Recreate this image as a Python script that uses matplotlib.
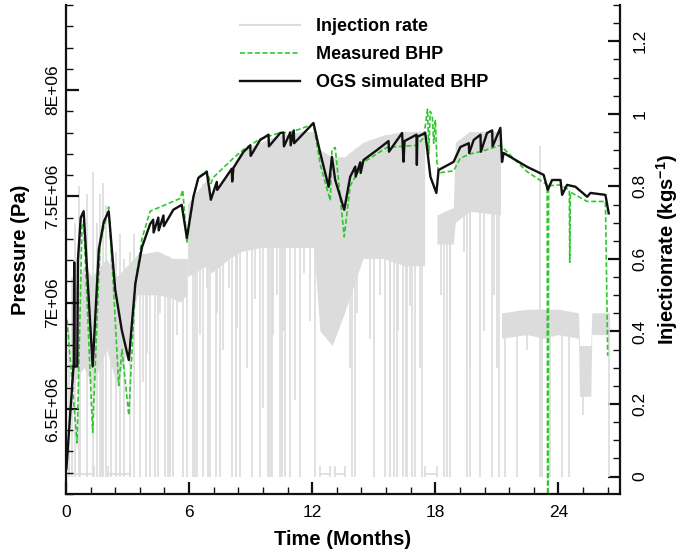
import numpy as np
import matplotlib
matplotlib.use('Agg')
import matplotlib.pyplot as plt
from matplotlib.lines import Line2D
from matplotlib.ticker import MultipleLocator, FixedLocator, FixedFormatter

plt.rcParams['font.family'] = ['Liberation Sans', 'DejaVu Sans']
plt.rcParams['mathtext.fontset'] = 'custom'
plt.rcParams['mathtext.rm'] = 'Liberation Sans'
plt.rcParams['mathtext.bf'] = 'Liberation Sans:bold'

# ---------------- data (time in months) ----------------
sim_time = [0.02, 0.38, 0.40, 0.42, 0.55, 0.58, 0.72, 0.86, 1.30, 1.60, 1.84, 2.08, 2.40, 2.72, 3.06,
            3.38, 3.70, 4.10, 4.25, 4.27, 4.50, 4.52, 4.75, 4.77, 5.23, 5.64, 5.89,
            6.21, 6.45, 6.86, 7.06, 7.35, 7.37, 8.08, 8.10, 8.16, 8.65, 8.98, 9.00,
            9.46, 9.87, 9.89, 10.44, 10.60, 10.62, 10.93, 10.95, 11.10, 11.12, 12.06,
            12.39, 12.80, 12.96, 13.12, 13.56, 13.85, 14.10, 14.12, 14.34, 14.36, 14.50,
            15.16, 15.72, 15.74, 16.38, 16.45, 16.50, 17.08, 17.10, 17.12, 17.51, 17.76,
            18.05, 18.16, 18.89, 19.22, 19.63, 19.65, 19.87, 20.20, 20.22, 20.52, 20.77,
            20.79, 21.17, 21.25, 21.33, 22.47, 23.28, 23.48, 23.69, 24.10, 24.18, 24.42,
            24.83, 25.40, 25.56, 26.29, 26.45]
sim_pressure = [6.22e6, 6.72e6, 7.19e6, 6.70e6, 6.70e6, 7.20e6, 7.40e6, 7.43e6, 6.70e6, 7.25e6, 7.38e6, 7.43e6, 7.06e6, 6.87e6, 6.73e6,
                7.09e6, 7.26e6, 7.37e6, 7.39e6, 7.33e6, 7.40e6, 7.34e6, 7.41e6, 7.36e6, 7.437e6, 7.46e6, 7.305e6,
                7.498e6, 7.587e6, 7.615e6, 7.484e6, 7.568e6, 7.53e6, 7.63e6, 7.57e6, 7.634e6, 7.709e6, 7.74e6, 7.69e6,
                7.765e6, 7.79e6, 7.735e6, 7.798e6, 7.80e6, 7.735e6, 7.80e6, 7.74e6, 7.81e6, 7.75e6, 7.845e6,
                7.704e6, 7.545e6, 7.685e6, 7.577e6, 7.437e6, 7.592e6, 7.64e6, 7.593e6, 7.66e6, 7.61e6, 7.671e6,
                7.718e6, 7.76e6, 7.71e6, 7.798e6, 7.663e6, 7.76e6, 7.79e6, 7.648e6, 7.78e6, 7.798e6, 7.592e6,
                7.516e6, 7.624e6, 7.662e6, 7.732e6, 7.75e6, 7.704e6, 7.765e6, 7.79e6, 7.71e6, 7.798e6, 7.81e6,
                7.735e6, 7.822e6, 7.662e6, 7.704e6, 7.639e6, 7.601e6, 7.531e6, 7.577e6, 7.577e6, 7.507e6, 7.554e6,
                7.545e6, 7.498e6, 7.516e6, 7.507e6, 7.42e6]

meas_time = [0.05, 0.54, 0.78, 0.86, 1.30, 1.66, 2.08, 2.31, 2.57, 2.73, 3.06,
             3.38, 3.70, 4.10, 4.59, 5.56, 5.69, 5.89, 6.21, 6.45, 6.86, 7.06, 7.19, 8.16, 8.65,
             9.46, 10.44, 10.93, 12.06, 12.39, 12.88, 12.96, 13.12, 13.56, 13.85, 14.50, 15.64,
             17.10, 17.43, 17.62, 17.68, 17.75, 17.85, 17.92, 18.00, 18.08, 18.16, 18.89, 19.22,
             19.71, 20.20, 21.17, 22.47, 23.45, 23.47, 23.50, 23.52, 24.10, 24.53, 24.55, 24.58,
             25.40, 26.29, 26.40]
meas_pressure = [6.92e6, 6.34e6, 7.36e6, 7.38e6, 6.39e6, 7.28e6, 7.45e6, 7.08e6, 6.61e6, 6.78e6, 6.47e6,
                 7.09e6, 7.30e6, 7.43e6, 7.45e6, 7.49e6, 7.53e6, 7.28e6, 7.50e6, 7.59e6, 7.62e6, 7.56e6, 7.59e6, 7.68e6, 7.72e6,
                 7.77e6, 7.80e6, 7.80e6, 7.84e6, 7.65e6, 7.48e6, 7.72e6, 7.73e6, 7.31e6, 7.55e6, 7.66e6, 7.73e6,
                 7.74e6, 7.775e6, 7.91e6, 7.70e6, 7.90e6, 7.88e6, 7.75e6, 7.86e6, 7.66e6, 7.61e6, 7.62e6, 7.68e6,
                 7.70e6, 7.71e6, 7.74e6, 7.616e6, 7.554e6, 6.10e6, 6.10e6, 7.55e6, 7.554e6, 7.53e6, 7.19e6, 7.52e6,
                 7.476e6, 7.476e6, 6.75e6]

# injection rate (kg/s): dense band envelope (NaN = shut-in gap)
rate_band_time = [0.30, 0.90, 1.30, 2.00, 2.50, 3.00, 3.50, 4.50, 5.20, 5.60, 5.90, np.nan,
                  5.95, 6.90, 7.10, 8.00, 8.60, 9.50, 10.40, 11.50, 12.10, 12.40, 13.00, 13.60,
                  14.50, 15.50, 16.50, 17.50, np.nan,
                  18.10, 18.90, 19.00, 19.70, 21.20, np.nan,
                  21.25, 22.50, 23.30, 24.00, 25.00, 25.05, 25.60, 25.65, 26.45]
rate_band_low = [0.25, 0.30, 0.25, 0.35, 0.25, 0.35, 0.50, 0.50, 0.49, 0.48, 0.50, np.nan,
                 0.55, 0.58, 0.56, 0.60, 0.62, 0.63, 0.63, 0.63, 0.63, 0.40, 0.36, 0.45,
                 0.60, 0.60, 0.58, 0.58, np.nan,
                 0.64, 0.64, 0.70, 0.73, 0.72, np.nan,
                 0.38, 0.39, 0.38, 0.39, 0.38, 0.22, 0.22, 0.39, 0.39]
rate_band_high = [0.50, 0.58, 0.55, 0.60, 0.55, 0.58, 0.61, 0.62, 0.60, 0.60, 0.60, np.nan,
                  0.75, 0.82, 0.78, 0.84, 0.90, 0.92, 0.94, 0.95, 0.95, 0.90, 0.88, 0.88,
                  0.92, 0.94, 0.95, 0.95, np.nan,
                  0.72, 0.74, 0.92, 0.95, 0.95, np.nan,
                  0.45, 0.46, 0.46, 0.46, 0.45, 0.36, 0.36, 0.45, 0.45]

# short shut-ins (rate drops to zero)
rate_drop_time = [1.74, 3.61, 3.90, 4.10, 4.34, 4.49, 4.83, 4.95, 5.05, 5.20, 5.70, 5.90,
                  6.20, 6.30, 6.40, 6.70, 6.90, 7.00, 7.30, 7.50, 8.08, 8.30, 8.49, 9.06,
                  9.46, 9.85, 9.95, 10.05, 10.44, 10.55, 10.68, 10.93, 11.41, 12.15, 13.94,
                  14.10, 15.00, 15.56, 15.80, 15.97, 16.13, 16.44, 16.55, 16.63, 16.86, 17.02,
                  17.35, 18.40, 18.57, 18.70, 19.55, 19.67, 20.20, 20.77, 21.10, 21.41, 21.98,
                  23.20, 23.60, 24.18, 24.50, 26.45]
# partial rate drops (time, lowest rate reached)
rate_dip_time = [3.77, 3.94, 4.59, 5.07, 5.40, 6.54, 6.86, 7.35, 7.67, 7.92, 8.33, 8.81,
                 9.22, 9.62, 10.11, 10.28, 10.60, 11.17, 11.58, 11.90, 13.85, 14.18, 14.83,
                 15.32, 15.80, 16.20, 16.78, 17.27, 18.30, 18.70, 19.38, 19.70, 20.36, 20.84,
                 21.00, 22.47, 25.20]
rate_dip_floor = [0.26, 0.34, 0.45, 0.50, 0.39, 0.39, 0.52, 0.45, 0.35, 0.52, 0.41, 0.30,
                  0.49, 0.19, 0.39, 0.50, 0.40, 0.21, 0.56, 0.43, 0.30, 0.45, 0.38,
                  0.50, 0.21, 0.40, 0.47, 0.30, 0.50, 0.44, 0.62, 0.30, 0.40, 0.50,
                  0.30, 0.35, 0.17]
# isolated spikes (time, peak rate)
rate_spike_time = [0.15, 0.30, 0.45, 0.62, 0.70, 1.00, 1.33, 1.50, 1.65, 1.82, 1.95,
                   2.20, 2.45, 2.63, 2.85, 3.12, 3.30, 23.10]
rate_spike_peak = [0.40, 0.55, 0.70, 0.80, 0.72, 0.78, 0.84, 0.70, 0.78, 0.81, 0.75,
                   0.66, 0.62, 0.67, 0.60, 0.62, 0.67, 0.91]
# long zero-rate periods
rate_zero_start = [0.15, 2.05, 12.40, 13.12, 17.50]
rate_zero_end = [1.35, 3.10, 12.88, 13.60, 18.10]

pressure_ticks = [6.5e6, 7.0e6, 7.5e6, 8.0e6]
pressure_labels = ['6.5E+06', '7E+06', '7.5E+06', '8E+06']
rate_ticks = [0, 0.2, 0.4, 0.6, 0.8, 1.0, 1.2]
rate_labels = ['0', '0.2', '0.4', '0.6', '0.8', '1', '1.2']
time_ticks = [0, 6, 12, 18, 24]

# ---------------- figure ----------------
W, H = 682, 557
fig = plt.figure(figsize=(W / 100, H / 100), dpi=100)
ax = fig.add_axes([66 / W, 1 - 494 / H, (620 - 66) / W, (494 - 5) / H])
ax2 = ax.twinx()
ax.set_zorder(ax2.get_zorder() + 1)
ax.patch.set_visible(False)

gray = '#dcdcdc'
band_t = [t for t in rate_band_time if not np.isnan(t)]
band_h = [h for h in rate_band_high if not np.isnan(h)]
# injection rate
ax2.fill_between(rate_band_time, rate_band_low, rate_band_high, color=gray, lw=0)
ax2.vlines(rate_drop_time, 0, np.interp(rate_drop_time, band_t, band_h), color=gray, lw=1.2)
ax2.vlines(rate_dip_time, rate_dip_floor, np.interp(rate_dip_time, band_t, band_h), color=gray, lw=1.2)
ax2.vlines(rate_spike_time, 0, rate_spike_peak, color=gray, lw=1.2)
ax2.hlines([0.008] * len(rate_zero_start), rate_zero_start, rate_zero_end, color=gray, lw=1.2)
ax2.vlines(rate_zero_start + rate_zero_end, 0, 0.03, color=gray, lw=1.2)

# pressures
ax.plot(meas_time, meas_pressure, color='#2ec82e', lw=1.2, ls=(0, (3, 1.5)))
ax.plot(sim_time, sim_pressure, color='#111111', lw=1.7)

ax.set_xlim(0, 27)
ax.set_ylim(6.1e6, 8.4e6)
ax2.set_ylim(-0.048, 1.30)

ax.xaxis.set_major_locator(FixedLocator(time_ticks))
ax.xaxis.set_minor_locator(MultipleLocator(1.2))
ax.yaxis.set_major_locator(FixedLocator(pressure_ticks))
ax.yaxis.set_major_formatter(FixedFormatter(pressure_labels))
ax.yaxis.set_minor_locator(MultipleLocator(1e5))
ax2.yaxis.set_major_locator(FixedLocator(rate_ticks))
ax2.yaxis.set_major_formatter(FixedFormatter(rate_labels))
ax2.yaxis.set_minor_locator(MultipleLocator(0.05))

for a in (ax, ax2):
    a.spines['top'].set_visible(False)
    for s in ('left', 'right', 'bottom'):
        a.spines[s].set_linewidth(1.6)
        a.spines[s].set_color('#111111')
ax.spines['right'].set_visible(False)
ax2.spines['left'].set_visible(False)
ax2.spines['bottom'].set_visible(False)

ax.tick_params(which='major', direction='in', length=9, width=1.6, labelsize=12.5,
               top=False, right=False, color='#111111')
ax.tick_params(which='minor', direction='in', length=5, width=1.0,
               top=False, right=False, color='#111111')
ax.tick_params(axis='y', which='major', labelrotation=90, pad=4)
ax.tick_params(axis='x', which='major', pad=8)
ax2.tick_params(which='major', direction='in', length=9, width=1.6, labelsize=12.5,
                labelrotation=90, pad=9, color='#111111')
ax2.tick_params(which='minor', direction='in', length=5, width=1.0, color='#111111')
for lab in ax.get_yticklabels():
    lab.set_va('center')
for lab in ax2.get_yticklabels():
    lab.set_va('center')

ax.set_xlabel('Time (Months)', fontsize=14.5, fontweight='bold', labelpad=7)
ax.set_ylabel('Pressure (Pa)', fontsize=14.5, fontweight='bold', labelpad=11)
ax2.set_ylabel('Injectionrate (kgs$^{\\mathbf{-1}}$)', fontsize=14.5, fontweight='bold',
               rotation=90, labelpad=5)

handles = [Line2D([], [], color=gray, lw=1.5),
           Line2D([], [], color='#2ec82e', lw=1.2, ls=(0, (3, 1.5))),
           Line2D([], [], color='#111111', lw=1.7)]
labels = ['Injection rate', 'Measured BHP', 'OGS simulated BHP']
leg = ax.legend(handles, labels, loc='upper left', bbox_to_anchor=(240 / W, 1 - 18 / H),
                bbox_transform=fig.transFigure, frameon=False, borderpad=0, borderaxespad=0,
                handlelength=3.3, handletextpad=0.9, labelspacing=0.62,
                prop={'weight': 'bold', 'size': 13})

fig.savefig('out.png', dpi=100)
